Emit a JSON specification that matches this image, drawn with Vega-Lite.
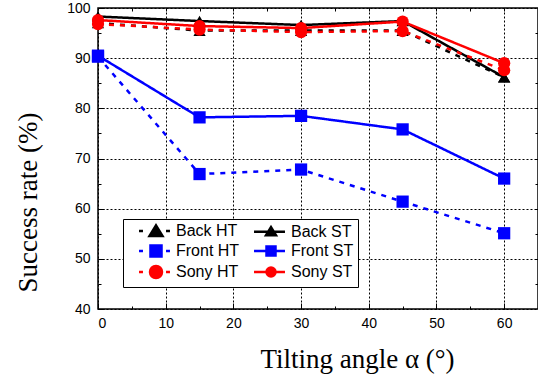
{
  "$schema": "https://vega.github.io/schema/vega-lite/v6.json",
  "width": 440,
  "height": 301,
  "autosize": {"type": "none"},
  "padding": {"left": 98, "top": 8, "right": 0, "bottom": 72},
  "background": "white",
  "config": {
    "view": {"stroke": "black", "strokeWidth": 1.5},
    "axis": {
      "domain": false,
      "labelFont": "Liberation Sans",
      "labelFontSize": 14,
      "labelColor": "black",
      "tickColor": "black",
      "tickWidth": 1,
      "titleFont": "Liberation Serif",
      "titleFontSize": 27,
      "titleFontWeight": "normal",
      "titleColor": "black",
      "gridColor": "black",
      "gridDash": [2, 2],
      "gridOpacity": 1,
      "gridWidth": 1
    },
    "legend": {
      "orient": "none",
      "legendX": 25,
      "legendY": 211,
      "direction": "horizontal",
      "columns": 2,
      "columnPadding": 2,
      "rowPadding": -1,
      "padding": 4,
      "symbolSize": 144,
      "symbolStrokeWidth": 2.5,
      "symbolOpacity": 1,
      "symbolFillColor": "#000000",
      "symbolStrokeColor": "#000000",
      "labelFont": "Liberation Sans",
      "labelFontSize": 16,
      "labelColor": "black",
      "labelOffset": 33,
      "strokeColor": "black",
      "fillColor": "white",
      "cornerRadius": 0
    }
  },
  "data": {
    "values": [
      {"angle": 0, "rate": 97.0, "series": "Back HT"},
      {"angle": 15, "rate": 95.5, "series": "Back HT"},
      {"angle": 30, "rate": 95.5, "series": "Back HT"},
      {"angle": 45, "rate": 95.5, "series": "Back HT"},
      {"angle": 60, "rate": 86.2, "series": "Back HT"},
      {"angle": 0, "rate": 98.3, "series": "Back ST"},
      {"angle": 15, "rate": 97.4, "series": "Back ST"},
      {"angle": 30, "rate": 96.6, "series": "Back ST"},
      {"angle": 45, "rate": 97.4, "series": "Back ST"},
      {"angle": 60, "rate": 86.2, "series": "Back ST"},
      {"angle": 0, "rate": 90.3, "series": "Front HT"},
      {"angle": 15, "rate": 66.9, "series": "Front HT"},
      {"angle": 30, "rate": 67.8, "series": "Front HT"},
      {"angle": 45, "rate": 61.4, "series": "Front HT"},
      {"angle": 60, "rate": 55.1, "series": "Front HT"},
      {"angle": 0, "rate": 90.5, "series": "Front ST"},
      {"angle": 15, "rate": 78.2, "series": "Front ST"},
      {"angle": 30, "rate": 78.5, "series": "Front ST"},
      {"angle": 45, "rate": 75.8, "series": "Front ST"},
      {"angle": 60, "rate": 66.0, "series": "Front ST"},
      {"angle": 0, "rate": 96.8, "series": "Sony HT"},
      {"angle": 15, "rate": 95.7, "series": "Sony HT"},
      {"angle": 30, "rate": 95.2, "series": "Sony HT"},
      {"angle": 45, "rate": 95.4, "series": "Sony HT"},
      {"angle": 60, "rate": 87.6, "series": "Sony HT"},
      {"angle": 0, "rate": 97.6, "series": "Sony ST"},
      {"angle": 15, "rate": 96.4, "series": "Sony ST"},
      {"angle": 30, "rate": 96.0, "series": "Sony ST"},
      {"angle": 45, "rate": 97.3, "series": "Sony ST"},
      {"angle": 60, "rate": 89.0, "series": "Sony ST"}
    ]
  },
  "resolve": {
    "scale": {"shape": "independent", "size": "independent"},
    "axis": {"x": "independent", "y": "independent"}
  },
  "layer": [
    {
      "mark": {"type": "line", "strokeWidth": 2.5},
      "encoding": {
        "x": {
          "field": "angle", "type": "quantitative",
          "scale": {"domain": [0, 65], "nice": false, "zero": false},
          "axis": {
            "orient": "bottom", "values": [0, 10, 20, 30, 40, 50, 60],
            "tickSize": -6, "labelPadding": 13, "grid": true,
            "title": "Tilting angle α (°)", "titleX": 259, "titleY": 58,
            "titleBaseline": "alphabetic", "titleAlign": "center", "titleAnchor": null
          }
        },
        "y": {
          "field": "rate", "type": "quantitative",
          "scale": {"domain": [40, 100], "nice": false, "zero": false},
          "axis": {
            "orient": "left", "values": [40, 50, 60, 70, 80, 90, 100],
            "tickSize": -6, "labelPadding": 14, "grid": true,
            "title": "Success rate (%)", "titleX": -70, "titleY": 194,
            "titleAngle": -90, "titleAlign": "center", "titleBaseline": "middle", "titleAnchor": null
          }
        },
        "color": {
          "field": "series", "type": "nominal", "legend": null,
          "scale": {
            "domain": ["Back HT", "Back ST", "Front HT", "Front ST", "Sony HT", "Sony ST"],
            "range": ["#000000", "#000000", "#0000ff", "#0000ff", "#ff0000", "#ff0000"]
          }
        },
        "strokeDash": {
          "field": "series", "type": "nominal", "legend": null,
          "scale": {
            "domain": ["Back HT", "Back ST", "Front HT", "Front ST", "Sony HT", "Sony ST"],
            "range": [[5, 6], [1, 0], [5, 6], [1, 0], [5, 6], [1, 0]]
          }
        }
      }
    },
    {
      "mark": {"type": "point", "filled": true, "opacity": 1},
      "encoding": {
        "x": {
          "field": "angle", "type": "quantitative",
          "axis": {
            "orient": "top", "values": [5, 10, 15, 20, 25, 30, 35, 40, 45, 50, 55, 60],
            "tickSize": -3, "labels": false, "grid": false, "title": null
          }
        },
        "y": {
          "field": "rate", "type": "quantitative",
          "axis": {
            "orient": "right", "values": [45, 50, 55, 60, 65, 70, 75, 80, 85, 90, 95],
            "tickSize": -3, "labels": false, "grid": false, "title": null
          }
        },
        "color": {"field": "series", "type": "nominal", "legend": null},
        "shape": {
          "field": "series", "type": "nominal", "legend": null,
          "scale": {
            "domain": ["Back HT", "Back ST", "Front HT", "Front ST", "Sony HT", "Sony ST"],
            "range": ["triangle-up", "triangle-up", "square", "square", "circle", "circle"]
          }
        },
        "size": {
          "field": "series", "type": "nominal", "legend": null,
          "scale": {
            "domain": ["Back HT", "Back ST", "Front HT", "Front ST", "Sony HT", "Sony ST"],
            "range": [150, 150, 100, 100, 121, 121]
          }
        }
      }
    },
    {
      "mark": {"type": "point", "filled": true, "opacity": 0, "size": 144, "strokeWidth": 2.5},
      "encoding": {
        "x": {
          "field": "angle", "type": "quantitative",
          "axis": {
            "orient": "bottom", "values": [5, 15, 25, 35, 45, 55, 65],
            "tickSize": -3, "labels": false, "grid": false, "title": null
          }
        },
        "y": {
          "field": "rate", "type": "quantitative",
          "axis": {
            "orient": "left", "values": [45, 55, 65, 75, 85, 95],
            "tickSize": -3, "labels": false, "grid": false, "title": null
          }
        },
        "fill": {
          "field": "series", "type": "nominal",
          "legend": {
            "title": null,
            "symbolFillColor": {"expr": "indexof(datum.value, 'Back') >= 0 ? '#000000' : indexof(datum.value, 'Front') >= 0 ? '#0000ff' : '#ff0000'"},
            "symbolStrokeColor": {"expr": "indexof(datum.value, 'Back') >= 0 ? '#000000' : indexof(datum.value, 'Front') >= 0 ? '#0000ff' : '#ff0000'"}
          },
          "scale": {
            "domain": ["Back HT", "Back ST", "Front HT", "Front ST", "Sony HT", "Sony ST"],
            "range": ["#000000", "#000000", "#0000ff", "#0000ff", "#ff0000", "#ff0000"]
          }
        },
        "stroke": {
          "field": "series", "type": "nominal",
          "legend": {
            "title": null,
            "symbolFillColor": {"expr": "indexof(datum.value, 'Back') >= 0 ? '#000000' : indexof(datum.value, 'Front') >= 0 ? '#0000ff' : '#ff0000'"},
            "symbolStrokeColor": {"expr": "indexof(datum.value, 'Back') >= 0 ? '#000000' : indexof(datum.value, 'Front') >= 0 ? '#0000ff' : '#ff0000'"}
          },
          "scale": {
            "domain": ["Back HT", "Back ST", "Front HT", "Front ST", "Sony HT", "Sony ST"],
            "range": ["#000000", "#000000", "#0000ff", "#0000ff", "#ff0000", "#ff0000"]
          }
        },
        "shape": {
          "field": "series", "type": "nominal",
          "legend": {
            "title": null,
            "symbolFillColor": {"expr": "indexof(datum.value, 'Back') >= 0 ? '#000000' : indexof(datum.value, 'Front') >= 0 ? '#0000ff' : '#ff0000'"},
            "symbolStrokeColor": {"expr": "indexof(datum.value, 'Back') >= 0 ? '#000000' : indexof(datum.value, 'Front') >= 0 ? '#0000ff' : '#ff0000'"}
          },
          "scale": {
            "domain": ["Back HT", "Back ST", "Front HT", "Front ST", "Sony HT", "Sony ST"],
            "range": [
              "M0.67,0H1.33M5.17,0H5.83M3.5,-0.95L4.58,0.8L2.42,0.8Z",
              "M0.67,0H5.83M3.5,-0.75L4.33,0.6L2.67,0.6Z",
              "M0.67,0H1.33M5.17,0H5.83M2.58,-0.92H4.42V0.92H2.58Z",
              "M0.67,0H5.83M2.75,-0.75H4.25V0.75H2.75Z",
              "M0.67,0H1.33M5.17,0H5.83M2.5,0A1,1 0 1,0 4.5,0A1,1 0 1,0 2.5,0Z",
              "M0.67,0H5.83M2.75,0A0.75,0.75 0 1,0 4.25,0A0.75,0.75 0 1,0 2.75,0Z"
            ]
          }
        }
      }
    }
  ]
}
